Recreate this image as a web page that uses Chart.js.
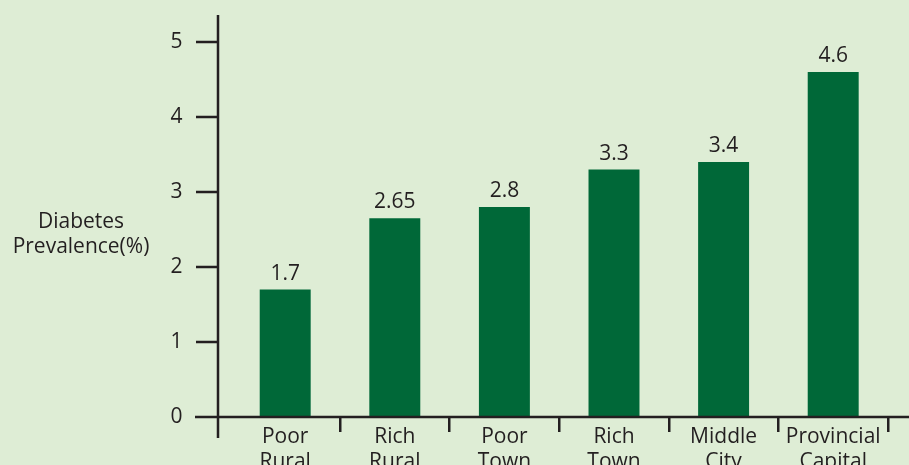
<!DOCTYPE html>
<html>
<head>
<meta charset="utf-8">
<script src="https://cdn.jsdelivr.net/npm/chart.js@4/dist/chart.umd.min.js"></script>
<style>
  html, body { margin: 0; padding: 0; background: #deedd5; overflow: hidden; }
  canvas { display: block; }
</style>
</head>
<body>
<canvas id="diabetesChart" width="909" height="465"></canvas>
<script>
let categorias = [["Poor", "Rural"], ["Rich", "Rural"], ["Poor", "Town"], ["Rich", "Town"], ["Middle", "City"], ["Provincial", "Capital"]];
let prevalencia = [1.7, 2.65, 2.8, 3.3, 3.4, 4.6];
let yTicks = [0, 1, 2, 3, 4, 5];
let tituloY = ["Diabetes", "Prevalence(%)"];

let corTexto = "#231f20";
let corBarra = "#006838";
let fonte = "'Open Sans', sans-serif";

// eixos, marcas e rotulos desenhados a mao
let eixosPlugin = {
  id: "eixos",
  afterDraw(chart) {
    let c = chart.ctx;
    let y = chart.scales.y;
    let eixoX = 218;
    c.save();
    c.strokeStyle = corTexto;
    c.lineWidth = 2.5;
    c.beginPath();
    c.moveTo(eixoX, 15);
    c.lineTo(eixoX, 438);
    c.moveTo(195, y.getPixelForValue(0));
    c.lineTo(chart.width, y.getPixelForValue(0));
    yTicks.forEach(v => {
      let py = y.getPixelForValue(v);
      c.moveTo(196, py);
      c.lineTo(eixoX, py);
    });
    c.stroke();

    c.fillStyle = corTexto;
    c.font = "21px " + fonte;
    c.textAlign = "center";
    c.textBaseline = "alphabetic";
    c.fillText(tituloY[0], 81, 228);
    c.fillText(tituloY[1], 81, 253);

    let meta = chart.getDatasetMeta(0);
    meta.data.forEach((bar, i) => {
      c.fillText(String(prevalencia[i]), bar.x, bar.y - 10);
    });
    c.restore();
  }
};

let ctx = document.getElementById("diabetesChart").getContext("2d");
let myChart = new Chart(ctx, {
  type: "bar",
  data: {
    labels: categorias,
    datasets: [
      {
        data: prevalencia,
        backgroundColor: corBarra,
        borderWidth: 0,
        categoryPercentage: 1,
        barPercentage: 0.465,
      },
    ],
  },
  options: {
    responsive: false,
    devicePixelRatio: 1,
    animation: false,
    layout: { padding: { top: 15, right: 21, left: 0, bottom: 0 } },
    plugins: { legend: { display: false }, tooltip: { enabled: false } },
    scales: {
      x: {
        offset: true,
        border: { display: false },
        grid: {
          offset: true,
          drawOnChartArea: false,
          drawTicks: true,
          tickLength: 15,
          lineWidth: 2.5,
          color: (c) => (c.index === 0 ? "rgba(0,0,0,0)" : corTexto),
        },
        ticks: {
          color: corTexto,
          font: { family: fonte, size: 21, lineHeight: 1.2 },
          padding: -8,
          maxRotation: 0,
          autoSkip: false,
        },
        afterFit(s) {
          s.height = 48;
          s.paddingLeft = 0;
          s.paddingRight = 0;
        },
      },
      y: {
        min: 0,
        max: 5.36,
        border: { display: false },
        grid: { display: false, drawTicks: false },
        ticks: {
          color: corTexto,
          font: { family: fonte, size: 21 },
          padding: 48,
        },
        afterBuildTicks(s) { s.ticks = yTicks.map(v => ({ value: v })); },
        afterFit(s) {
          s.width = 230.4;
          s.paddingTop = 0;
          s.paddingBottom = 0;
        },
      },
    },
  },
  plugins: [eixosPlugin],
});
</script>
</body>
</html>
